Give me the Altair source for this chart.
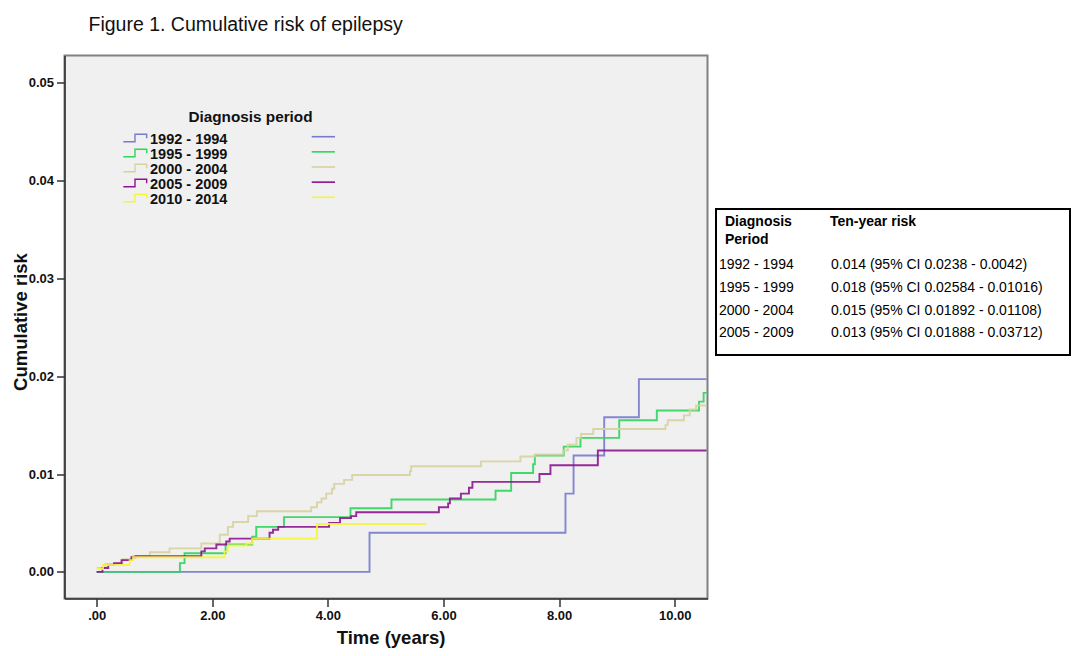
import altair as alt
import pandas as pd

# ---------------- data ----------------
PERIODS = ["1992 - 1994", "1995 - 1999", "2000 - 2004", "2005 - 2009", "2010 - 2014"]
COLORS = ["#777bcc", "#2fd45c", "#d6d29e", "#8c148e", "#f5f53c"]

t_1992 = [0, 4.72, 8.11, 8.25, 8.78, 9.38, 10.55]
r_1992 = [0, 0.0040, 0.0080, 0.0119, 0.0158, 0.0197, 0.0197]

t_1995 = [0, 1.44, 1.52, 2.23, 2.69, 2.76, 3.24, 4.39, 5.10, 6.90, 7.17, 7.55, 7.58,
          8.08, 8.37, 9.04, 9.69, 10.42, 10.50, 10.55]
r_1995 = [0, 0.0009, 0.0019, 0.0028, 0.0036, 0.0046, 0.0056, 0.0065, 0.0074, 0.0083,
          0.0101, 0.0110, 0.0119, 0.0128, 0.0137, 0.0155, 0.0165, 0.0174, 0.0183, 0.0183]

t_2000 = [0, 0.15, 0.45, 0.62, 0.92, 1.26, 1.81, 2.13, 2.27, 2.36, 2.62, 2.77, 3.71, 3.81,
          3.89, 3.97, 4.07, 4.11, 4.28, 4.42, 5.42, 5.44, 6.65, 7.33, 7.58, 8.07, 8.15,
          8.30, 8.38, 8.59, 9.84, 9.88, 10.16, 10.26, 10.37, 10.55]
r_2000 = [0.0004, 0.0008, 0.0013, 0.0016, 0.0020, 0.0024, 0.0029, 0.0038, 0.0046, 0.0051,
          0.0057, 0.0062, 0.0066, 0.0071, 0.0075, 0.0080, 0.0085, 0.0090, 0.0094, 0.0099,
          0.0103, 0.0108, 0.0113, 0.0118, 0.0120, 0.0124, 0.0130, 0.0137, 0.0141, 0.0146,
          0.0150, 0.0155, 0.0160, 0.0166, 0.0170, 0.0170]

t_2005 = [0, 0.10, 0.20, 0.30, 0.43, 0.60, 0.67, 1.81, 1.87, 2.07, 2.24, 2.30, 2.99, 3.05,
          3.14, 4.02, 4.21, 4.40, 4.49, 5.92, 6.08, 6.11, 6.30, 6.44, 6.50, 7.66, 7.85,
          8.67, 10.55]
r_2005 = [0, 0.0004, 0.0007, 0.0009, 0.0012, 0.0015, 0.0016, 0.0021, 0.0024, 0.0028,
          0.0031, 0.0034, 0.0040, 0.0043, 0.0046, 0.0050, 0.0055, 0.0057, 0.0061, 0.0066,
          0.0070, 0.0075, 0.0080, 0.0086, 0.0092, 0.0100, 0.0109, 0.0124, 0.0124]

t_2010 = [0, 0.11, 0.57, 0.63, 2.21, 2.27, 2.59, 2.69, 3.81, 5.70]
r_2010 = [0.0003, 0.0007, 0.0012, 0.0015, 0.0021, 0.0027, 0.0029, 0.0034, 0.0049, 0.0049]

TABLE_PERIODS = ["1992 - 1994", "1995 - 1999", "2000 - 2004", "2005 - 2009"]
TEN_YEAR = ["0.014", "0.018", "0.015", "0.013"]
CI_LOW = ["0.0238", "0.02584", "0.01892", "0.01888"]
CI_HIGH = ["0.0042", "0.01016", "0.01108", "0.03712"]

X_TICKS = [0, 2, 4, 6, 8, 10]
Y_TICKS = [0, 0.01, 0.02, 0.03, 0.04, 0.05]

TITLE = "Figure 1. Cumulative risk of epilepsy"
X_TITLE = "Time (years)"
Y_TITLE = "Cumulative risk"
LEGEND_TITLE = "Diagnosis period"
TABLE_H1 = "Diagnosis"
TABLE_H2 = "Period"
TABLE_H3 = "Ten-year  risk"

# ---------------- build tables ----------------
series = [(PERIODS[0], t_1992, r_1992), (PERIODS[1], t_1995, r_1995),
          (PERIODS[2], t_2000, r_2000), (PERIODS[3], t_2005, r_2005),
          (PERIODS[4], t_2010, r_2010)]
rows = []
for name, ts, rs in series:
    for i, (t, r) in enumerate(zip(ts, rs)):
        rows.append({"period": name, "t": t, "r": r, "i": i})
df = pd.DataFrame(rows)

leg_df = pd.DataFrame({"period": PERIODS, "k": list(range(len(PERIODS)))})
tab_df = pd.DataFrame({"period": TABLE_PERIODS, "risk": TEN_YEAR, "lo": CI_LOW,
                       "hi": CI_HIGH, "k": list(range(len(TABLE_PERIODS)))})

FONT = "Liberation Sans"
color = alt.Color("period:N", scale=alt.Scale(domain=PERIODS, range=COLORS), legend=None)

lines = alt.Chart(df).mark_line(interpolate="step-after", strokeWidth=1.9, opacity=0.9).encode(
    x=alt.X("t:Q",
            scale=alt.Scale(domain=[-0.557, 10.567], nice=False, zero=False),
            axis=alt.Axis(values=X_TICKS, title=X_TITLE,
                          labelExpr="datum.value == 0 ? '.00' : format(datum.value, '.2f')",
                          titleX=326, titleY=45, titleBaseline="alphabetic")),
    y=alt.Y("r:Q",
            scale=alt.Scale(domain=[-0.00272, 0.05278], nice=False, zero=False),
            axis=alt.Axis(values=Y_TICKS, format=".2f", title=Y_TITLE,
                          titleX=-38.5, titleY=266, titleBaseline="alphabetic")),
    color=color,
    order="i:Q",
)

# legend (inside plot)
leg_icons = alt.Chart(leg_df).mark_point(
    shape="M-1,0.32H0V-0.32H1V0.03", filled=False, size=545, strokeWidth=1.4, opacity=1
).transform_calculate(ix="70.5", iy="82.5 + 15 * datum.k").encode(
    x=alt.X("ix:Q", scale=None, axis=None),
    y=alt.Y("iy:Q", scale=None, axis=None),
    color=color,
)
leg_labels = alt.Chart(leg_df).mark_text(
    align="left", baseline="alphabetic", font=FONT, fontWeight="bold", fontSize=14.5, color="#111111"
).transform_calculate(lx="85.5", ly="88 + 15 * datum.k").encode(
    x=alt.X("lx:Q", scale=None, axis=None),
    y=alt.Y("ly:Q", scale=None, axis=None),
    text="period:N",
)
leg_lines = alt.Chart(leg_df).mark_rule(strokeWidth=1.6).transform_calculate(
    sx1="247.2", sx2="270.5", sy="81.2 + 15.15 * datum.k"
).encode(
    x=alt.X("sx1:Q", scale=None, axis=None),
    x2="sx2:Q",
    y=alt.Y("sy:Q", scale=None, axis=None),
    color=color,
)
leg_title = alt.Chart(pd.DataFrame({"text": [LEGEND_TITLE]})).mark_text(
    align="center", baseline="alphabetic", font=FONT, fontWeight="bold", fontSize=15.3, color="#111111"
).encode(x=alt.value(186), y=alt.value(66.2), text="text:N")

# figure title
fig_title = alt.Chart(pd.DataFrame({"text": [TITLE]})).mark_text(
    align="left", baseline="alphabetic", font=FONT, fontSize=19.5, color="#111111"
).encode(x=alt.value(24), y=alt.value(-25), text="text:N")

# table on the right
tab_box = alt.Chart(pd.DataFrame({"a": [0]})).mark_rect(
    fillOpacity=0, stroke="#000000", strokeWidth=2
).encode(x=alt.value(651.5), x2=alt.value(1005.5), y=alt.value(153.5), y2=alt.value(299.5))

def header(txt, x, y):
    return alt.Chart(pd.DataFrame({"text": [txt]})).mark_text(
        align="left", baseline="middle", font=FONT, fontWeight="bold", fontSize=14, color="#000000"
    ).encode(x=alt.value(x), y=alt.value(y), text="text:N")

h1 = header(TABLE_H1, 660.5, 166.5)
h2 = header(TABLE_H2, 660.5, 184.5)
h3 = header(TABLE_H3, 765.5, 166.5)

tab_names = alt.Chart(tab_df).mark_text(
    align="left", baseline="middle", font=FONT, fontSize=14, color="#000000"
).transform_calculate(tx="654.5", ty="209.5 + 22.8 * datum.k").encode(
    x=alt.X("tx:Q", scale=None, axis=None),
    y=alt.Y("ty:Q", scale=None, axis=None),
    text="period:N",
)
tab_vals = alt.Chart(tab_df).mark_text(
    align="left", baseline="middle", font=FONT, fontSize=14, color="#000000"
).transform_calculate(
    tx="766.5", ty="209.5 + 22.8 * datum.k",
    label="datum.risk + ' (95% CI ' + datum.lo + ' - ' + datum.hi + ')'"
).encode(
    x=alt.X("tx:Q", scale=None, axis=None),
    y=alt.Y("ty:Q", scale=None, axis=None),
    text="label:N",
)

chart = alt.layer(
    lines, leg_icons, leg_lines, leg_labels, leg_title, fig_title,
    tab_box, h1, h2, h3, tab_names, tab_vals
).properties(
    width=643, height=543,
    autosize=alt.AutoSizeParams(type="none"),
    padding={"left": 56.5, "top": 47.5, "right": 364, "bottom": 49.5},
    background="white",
).configure_view(
    stroke="#808080", strokeWidth=2, fill="#f0f0f0"
).configure_axis(
    grid=False,
    domainColor="#333333", domainWidth=1.6,
    tickColor="#333333", tickWidth=1.5, tickSize=8,
    labelFont=FONT, labelFontWeight="bold", labelFontSize=13, labelColor="#111111",
    labelPadding=3,
    titleFont=FONT, titleFontWeight="bold", titleFontSize=18.5, titleColor="#111111",
)

chart.save("out.html", embed_options={"renderer": "svg", "actions": False})
